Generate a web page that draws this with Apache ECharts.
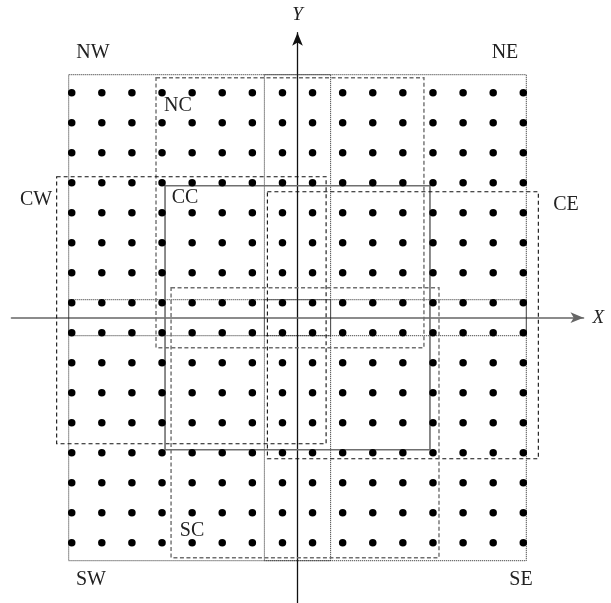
<!DOCTYPE html>
<html><head><meta charset="utf-8">
<script src="https://cdn.jsdelivr.net/npm/echarts@6/dist/echarts.min.js"></script>
<style>html,body{margin:0;padding:0;background:#fff}#c{width:611px;height:603px}</style>
</head><body><div id="c"></div>
<script>
// Grid of lattice points (x and y positions, in cell units)
const gridX = [-7.5,-6.5,-5.5,-4.5,-3.5,-2.5,-1.5,-0.5,0.5,1.5,2.5,3.5,4.5,5.5,6.5,7.5];
const gridY = [-7.5,-6.5,-5.5,-4.5,-3.5,-2.5,-1.5,-0.5,0.5,1.5,2.5,3.5,4.5,5.5,6.5,7.5];

// Regions (rectangles) in cell units
const regionNames = ['NW','NE','SW','SE','NC','CW','CC','CE','SC'];
const regionXMin  = [-7.6,-1.1,-7.6,-1.1,-4.7,-8.0,-4.4,-1.0,-4.2];
const regionXMax  = [ 1.1, 7.6, 1.1, 7.6, 4.2, 0.95,4.4, 8.0, 4.7];
const regionYMin  = [-0.6,-0.6,-8.1,-8.1,-1.0,-4.2,-4.4,-4.7,-8.0];
const regionYMax  = [ 8.1, 8.1, 0.6, 0.6, 8.0, 4.7, 4.4, 4.2, 1.0];

const axisNames = ['X','Y'];

const styles = {
  NW:{color:'#222', w:1, dash:[1,1]},
  NE:{color:'#222', w:1, dash:[1,1]},
  SW:{color:'#222', w:1, dash:[1,1]},
  SE:{color:'#222', w:1, dash:[1,1]},
  NC:{color:'#6f6f6f', w:1.4, dash:[4,2.5]},
  SC:{color:'#6f6f6f', w:1.4, dash:[4,2.5]},
  CW:{color:'#111', w:1.1, dash:[4,3]},
  CE:{color:'#111', w:1.1, dash:[4,3]},
  CC:{color:'#6f6f6f', w:1.6, dash:null}
};
const labelPos = {
  NW:[93,53], NE:[505,53], CW:[36,200], CE:[566,205], NC:[178,106],
  CC:[185,198], SC:[192,531], SW:[91,580], SE:[521,580]
};

const dots = [];
gridY.forEach(y => gridX.forEach(x => dots.push([x, y])));
const rects = regionNames.map((n, i) => [regionXMin[i], regionXMax[i], regionYMin[i], regionYMax[i]]);

const chart = echarts.init(document.getElementById('c'));
const serif = '"Liberation Serif","DejaVu Serif",serif';
chart.setOption({
  animation: false,
  grid: {left: 11.5, top: 32.7, width: 572, height: 570, containLabel: false, outerBoundsMode: 'none'},
  xAxis: {
    type: 'value', min: -9.5, max: 9.5,
    splitLine: {show: false}, axisTick: {show: false}, axisLabel: {show: false},
    axisLine: {onZero: true, symbol: ['none','arrow'], symbolSize: [8, 13], lineStyle: {color: '#666', width: 1.6}},
    name: axisNames[0], nameLocation: 'end', nameGap: 9,
    nameTextStyle: {fontFamily: serif, fontStyle: 'italic', fontSize: 19, color: '#222'}
  },
  yAxis: {
    type: 'value', min: -9.5, max: 9.5,
    splitLine: {show: false}, axisTick: {show: false}, axisLabel: {show: false},
    axisLine: {onZero: true, symbol: ['none','arrow'], symbolSize: [8, 13], lineStyle: {color: '#111', width: 1.3}},
    name: axisNames[1], nameLocation: 'end', nameGap: 8,
    nameTextStyle: {fontFamily: serif, fontStyle: 'italic', fontSize: 19, color: '#222'}
  },
  series: [
    {
      type: 'custom', z: 2, data: rects, encode: {x: [0, 1], y: [2, 3]},
      renderItem: function (params, api) {
        const i = params.dataIndex;
        const p0 = api.coord([api.value(0), api.value(3)]);
        const p1 = api.coord([api.value(1), api.value(2)]);
        const st = styles[regionNames[i]];
        return {
          type: 'rect',
          shape: {x: p0[0], y: p0[1], width: p1[0] - p0[0], height: p1[1] - p0[1]},
          style: {fill: 'none', stroke: st.color, lineWidth: st.w, lineDash: st.dash}
        };
      }
    },
    {
      type: 'scatter', z: 3, data: dots, symbol: 'circle', symbolSize: 7.5,
      itemStyle: {color: '#000', opacity: 1}
    }
  ],
  graphic: regionNames.map(n => ({
    type: 'text', x: labelPos[n][0], y: labelPos[n][1], z: 10,
    style: {text: n, font: '20px ' + serif, fill: '#222', align: 'center', verticalAlign: 'middle'}
  }))
});
</script>
</body></html>
